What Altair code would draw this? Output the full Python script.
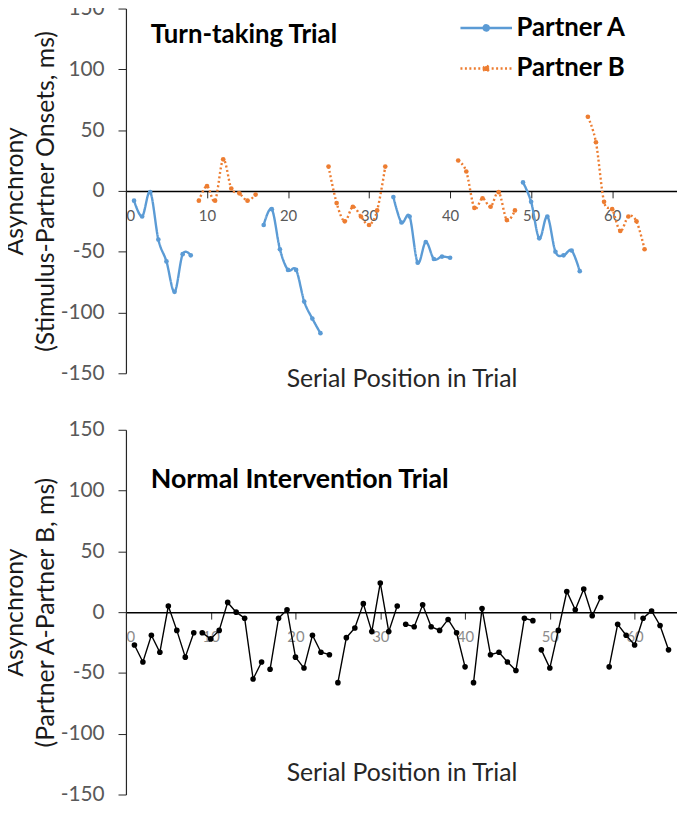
import altair as alt
import pandas as pd

# ---------------- data ----------------
# Turn-taking trial: asynchrony (stimulus - partner onsets, ms), blocks of 8 taps
partner_a_block1 = [-8, -21, -1, -40, -58, -83, -52, -53]        # positions 1-8
partner_b_block1 = [-8, 4, -8, 26, 2, -2, -8, -3]                # positions 9-16
partner_a_block2 = [-28, -15, -48, -65, -65, -91, -105, -117]    # positions 17-24
partner_b_block2 = [20, -10, -25, -13, -21, -28, -16, 20]        # positions 25-32
partner_a_block3 = [-5, -26, -21, -59, -42, -56, -54, -55]       # positions 33-40
partner_b_block3 = [25, 16, -14, -6, -13, -1, -24, -16]          # positions 41-48
partner_a_block4 = [7, -9, -39, -21, -50, -53, -49, -66]         # positions 49-56
partner_b_block4 = [61, 40, -9, -15, -33, -21, -25, -48]         # positions 57-64

# Normal intervention trial: asynchrony (Partner A - Partner B, ms)
normal_values = [
    -27, -41, -19, -33, 5, -15, -37, -17,
    -17, -22, -15, 8, 0, -5, -55, -41,
    -47, -5, 2, -37, -46, -19, -33, -35,
    -58, -21, -13, 7, -16, 24, -16, 5,
    -10, -12, 6, -12, -15, -6, -17, -45,
    -58, 3, -35, -33, -41, -48, -5, -7,
    -31, -46, -15, 17, 2, 19, -3, 12,
    -45, -10, -19, -27, -5, 1, -11, -31,
]

partner_names = ["Partner A", "Partner B"]
partner_colors = ["#5B9BD5", "#ED7D31"]
y_ticks = [-150, -100, -50, 0, 50, 100, 150]
x_ticks = [0, 10, 20, 30, 40, 50, 60]
top_title = "Turn-taking Trial"
bottom_title = "Normal Intervention Trial"
x_title = "Serial Position in Trial"
top_y_title = ["Asynchrony", "(Stimulus-Partner Onsets, ms)"]
bottom_y_title = ["Asynchrony", "(Partner A-Partner B, ms)"]

blocks = [
    ("Partner A", partner_a_block1), ("Partner B", partner_b_block1),
    ("Partner A", partner_a_block2), ("Partner B", partner_b_block2),
    ("Partner A", partner_a_block3), ("Partner B", partner_b_block3),
    ("Partner A", partner_a_block4), ("Partner B", partner_b_block4),
]
rows = []
for b, (who, vals) in enumerate(blocks):
    for i, v in enumerate(vals):
        rows.append({"pos": b * 8 + i + 1, "val": v, "partner": who, "seg": b})
df_top = pd.DataFrame(rows)

df_bot = pd.DataFrame({
    "pos": list(range(1, len(normal_values) + 1)),
    "val": normal_values,
    "seg": [i // 8 for i in range(len(normal_values))],
})

# ---------------- layout ----------------
W = 556
H = 368
FONT = "Lato"
HYPHEN_LABELS = "datum.value < 0 ? '-' + abs(datum.value) : '' + datum.value"


def y_axis(title):
    return alt.Axis(values=y_ticks, title=title, grid=False, labelExpr=HYPHEN_LABELS,
                    labelFont=FONT, labelFontSize=21, labelColor="#595959",
                    labelPadding=14, tickSize=8, tickColor="#262626",
                    domainColor="#262626", domainWidth=1.2,
                    titleFont=FONT, titleFontSize=25, titleFontWeight="normal",
                    titleColor="#1a1a1a", titlePadding=2, titleLineHeight=31)


def x_axis(label_color, title_y):
    return alt.Axis(values=x_ticks, title=x_title, grid=False, offset=-H / 2,
                    labelFont=FONT, labelFontSize=15, labelColor=label_color,
                    labelPadding=11, tickSize=7, tickColor="#262626",
                    domainColor="#000000", domainWidth=1.5,
                    titleFont=FONT, titleFontSize=25, titleFontWeight="normal",
                    titleColor="#262626", titleY=title_y, titleBaseline="middle")


legend = alt.Legend(
    title=None, orient="none", legendX=336, legendY=-8,
    symbolType="M-1,0L1,0M-0.1,0A0.1,0.1,0,1,1,0.1,0A0.1,0.1,0,1,1,-0.1,0",
    symbolSize=2704, symbolStrokeWidth=2.5,
    labelFont=FONT, labelFontSize=26, labelFontWeight="bold", labelColor="#000000",
    labelOffset=3, rowPadding=-26,
)

y_scale = alt.Scale(domain=[-150, 150], nice=False, zero=False)
x_scale_top = alt.Scale(domain=[0, 68], nice=False, zero=False)
x_scale_bot = alt.Scale(domain=[0, 65], nice=False, zero=False)
color_scale = alt.Scale(domain=partner_names, range=partner_colors)

base_top = alt.Chart(df_top).encode(
    x=alt.X("pos:Q", scale=x_scale_top, axis=x_axis("#595959", H / 2 + 5)),
    y=alt.Y("val:Q", scale=y_scale, axis=y_axis(top_y_title)),
)
line_top = base_top.mark_line(interpolate="cardinal", strokeCap="butt", strokeWidth=2.4).encode(
    color=alt.Color("partner:N", scale=color_scale, legend=legend),
    strokeDash=alt.StrokeDash("partner:N", scale=alt.Scale(domain=partner_names, range=[[1, 0], [2, 2.5]]), legend=legend),
    detail="seg:N",
)
pts_top = base_top.mark_circle(size=22, opacity=1).encode(
    color=alt.Color("partner:N", scale=color_scale, legend=None)
)
title_top_mark = alt.Chart(pd.DataFrame({"t": [top_title]})).mark_text(
    font=FONT, fontSize=26, fontWeight="bold", align="left", baseline="alphabetic", color="#000000"
).encode(text="t:N", x=alt.value(25), y=alt.value(35))

top = alt.layer(line_top, pts_top, title_top_mark).properties(width=W, height=H)

base_bot = alt.Chart(df_bot).encode(
    x=alt.X("pos:Q", scale=x_scale_bot, axis=x_axis("#8c8c8c", H / 2 - 22)),
    y=alt.Y("val:Q", scale=y_scale, axis=y_axis(bottom_y_title)),
)
line_bot = base_bot.mark_line(color="#000000", strokeWidth=1.4).encode(detail="seg:N")
pts_bot = base_bot.mark_circle(size=32, color="#000000", opacity=1)
title_bot_mark = alt.Chart(pd.DataFrame({"t": [bottom_title]})).mark_text(
    font=FONT, fontSize=27, fontWeight="bold", align="left", baseline="alphabetic", color="#000000"
).encode(text="t:N", x=alt.value(25), y=alt.value(59))

bottom = alt.layer(line_bot, pts_bot, title_bot_mark).properties(width=W, height=H)

chart = (
    alt.vconcat(top, bottom, spacing=28)
    .properties(padding={"top": -14, "left": -6, "right": 0, "bottom": -5}, background="white")
    .configure_view(stroke=None)
)

chart.save("out.html", embed_options={"renderer": "svg", "actions": False})
